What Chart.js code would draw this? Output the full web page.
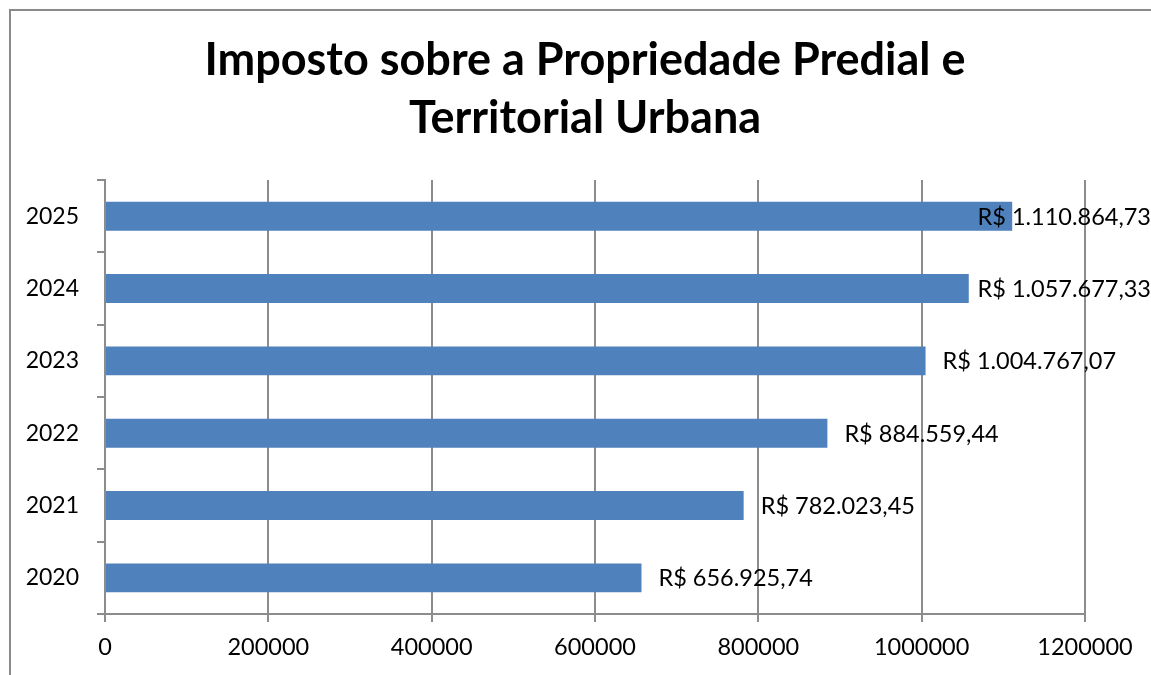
<!DOCTYPE html>
<html>
<head>
<meta charset="utf-8">
<script src="https://cdn.jsdelivr.net/npm/chart.js@4/dist/chart.umd.min.js"></script>
<style>
  html, body { margin: 0; padding: 0; background: #ffffff; overflow: hidden; }
  #wrap { position: relative; width: 1151px; height: 675px; }
  #frame { position: absolute; left: 9px; top: 9px; width: 1300px; height: 800px;
           border-left: 2px solid #8a8a8a; border-top: 2px solid #8a8a8a; box-sizing: border-box; }
  #c { position: absolute; left: 0; top: 0; }
</style>
</head>
<body>
<div id="wrap">
  <div id="frame"></div>
  <canvas id="c" width="1151" height="675"></canvas>
</div>
<script>
const years = ['2020', '2021', '2022', '2023', '2024', '2025'];
const values = [656925.74, 782023.45, 884559.44, 1004767.07, 1057677.33, 1110864.73];
const titleLines = ['Imposto sobre a Propriedade Predial e', 'Territorial Urbana'];
const xMin = 0, xMax = 1200000, xStep = 200000;

const FONT = 'Lato, "Open Sans", sans-serif';
const GRID = '#8c8c8c';

function formatBRL(v) {
  const fixed = v.toFixed(2);
  let [intPart, dec] = fixed.split('.');
  intPart = intPart.replace(/\B(?=(\d{3})+(?!\d))/g, '.');
  return 'R$ ' + intPart + ',' + dec;
}

const labelPlugin = {
  id: 'barLabels',
  afterDatasetsDraw(chart) {
    const ctx = chart.ctx;
    const meta = chart.getDatasetMeta(0);
    ctx.save();
    ctx.font = '23.5px ' + FONT;
    ctx.fillStyle = '#000000';
    ctx.textBaseline = 'middle';
    ctx.textAlign = 'left';
    meta.data.forEach((bar, i) => {
      const text = formatBRL(chart.data.datasets[0].data[i]);
      const w = ctx.measureText(text).width;
      let x = bar.x + 17;
      if (x + w > chart.width) x = chart.width - w;
      ctx.fillText(text, x, bar.y + 1);
    });
    ctx.restore();
  }
};

new Chart(document.getElementById('c'), {
  type: 'bar',
  data: {
    labels: years,
    datasets: [{
      data: values,
      backgroundColor: '#4F81BD',
      borderWidth: 0,
      barPercentage: 0.4,
      categoryPercentage: 1.0
    }]
  },
  options: {
    indexAxis: 'y',
    responsive: false,
    animation: false,
    layout: { padding: { left: 19, right: 0, top: 0, bottom: 0 } },
    plugins: {
      legend: { display: false },
      tooltip: { enabled: false },
      title: {
        display: true,
        text: titleLines,
        color: '#000000',
        font: { family: FONT, size: 45, weight: 'bold', lineHeight: 1.29 },
        padding: { top: 31, bottom: 33 }
      }
    },
    scales: {
      x: {
        type: 'linear',
        position: 'bottom',
        min: xMin,
        max: xMax,
        ticks: {
          stepSize: xStep,
          color: '#000000',
          font: { family: FONT, size: 23.5 },
          padding: 11,
          callback: v => String(v)
        },
        grid: { color: GRID, lineWidth: 2, tickLength: 8, drawTicks: true },
        border: { display: true, color: GRID, width: 2 },
        afterFit(scale) { scale.height = 61; }
      },
      y: {
        type: 'category',
        position: 'left',
        reverse: true,
        ticks: {
          color: '#000000',
          font: { family: FONT, size: 23 },
          padding: 18
        },
        grid: { offset: true, drawOnChartArea: false, drawTicks: true, tickLength: 8, color: GRID, lineWidth: 2 },
        border: { display: true, color: GRID, width: 2 },
        afterFit(scale) { scale.width = 86; }
      },
      yRight: {
        type: 'linear',
        position: 'right',
        display: true,
        ticks: { display: false },
        grid: { display: false, drawTicks: false },
        border: { display: false },
        afterFit(scale) { scale.width = 66; }
      }
    }
  },
  plugins: [labelPlugin]
});
</script>
</body>
</html>
